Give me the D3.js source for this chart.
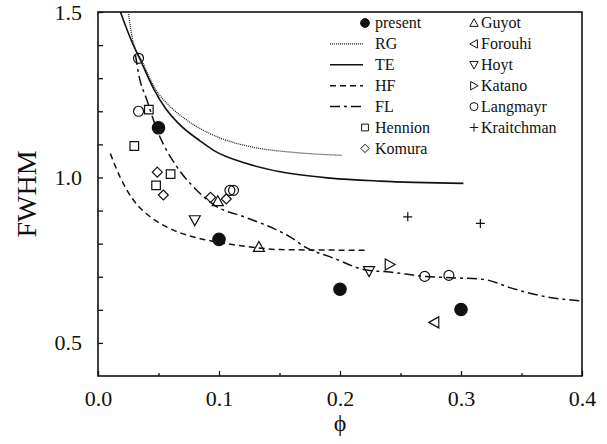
<html>
<head>
  <meta charset="UTF-8">
  <title>FWHM vs phi</title>
  <script src='https://d3js.org/d3.v7.min.js'></script>
</head>
<style>
body { margin: 0; background: #fff; }
text { font-family: "Liberation Serif", "Times New Roman", serif; fill: #111; }
</style>
<body>
  <script>

// ---- data ----
var present    = [[0.05, 1.15], [0.1, 0.813], [0.2, 0.662], [0.3, 0.601]];
var hennion    = [[0.030, 1.095], [0.042, 1.205], [0.060, 1.010], [0.048, 0.976]];
var komura     = [[0.049, 1.016], [0.054, 0.947], [0.093, 0.940], [0.106, 0.935]];
var guyot      = [[0.099, 0.928], [0.133, 0.790]];
var forouhi    = [[0.278, 0.562]];
var hoyt       = [[0.080, 0.871], [0.224, 0.717]];
var katano     = [[0.241, 0.737]];
var langmayr   = [[0.0335, 1.360], [0.0335, 1.200], [0.109, 0.961], [0.112, 0.961], [0.270, 0.701], [0.290, 0.704]];
var kraitchman = [[0.256, 0.881], [0.316, 0.861]];

var rgCurve = [[0.025, 1.5], [0.029, 1.41], [0.036, 1.355], [0.047, 1.27], [0.060, 1.213], [0.0735, 1.173],
               [0.099, 1.122], [0.126, 1.093], [0.164, 1.075], [0.2015, 1.067]];
var teCurve = [[0.0185, 1.5], [0.028, 1.41], [0.035, 1.355], [0.046, 1.268], [0.0556, 1.210], [0.068, 1.158],
               [0.0845, 1.110], [0.0955, 1.082], [0.123, 1.042], [0.1506, 1.017], [0.192, 0.998],
               [0.233, 0.989], [0.302, 0.982]];
var hfCurve = [[0.0102, 1.072], [0.0184, 1.0], [0.0294, 0.931], [0.0432, 0.881], [0.057, 0.850],
               [0.079, 0.820], [0.098, 0.805], [0.126, 0.790], [0.1506, 0.782], [0.2216, 0.780]];
var flCurve = [[0.031, 1.37], [0.0335, 1.314], [0.0405, 1.233], [0.050, 1.133], [0.0652, 1.032], [0.079, 0.971],
               [0.0955, 0.918], [0.123, 0.878], [0.145, 0.846], [0.158, 0.822], [0.1726, 0.787], [0.192, 0.760],
               [0.222, 0.720], [0.2414, 0.714], [0.270, 0.701], [0.291, 0.697], [0.3185, 0.692],
               [0.343, 0.664], [0.371, 0.639], [0.40, 0.627]];

var xTicks = [0.0, 0.1, 0.2, 0.3, 0.4];
var xMinor = [0.05, 0.15, 0.25, 0.35];
var yTicks = [0.5, 1.0, 1.5];
var yMinor = [0.6, 0.7, 0.8, 0.9, 1.1, 1.2, 1.3, 1.4];

var width = 607,
    height = 444;
var margin = {top: 12, right: 25, bottom: 68, left: 98};
var serif = '"Liberation Serif", "Times New Roman", serif';

var svg = d3.select('body')
  .append('svg')
  .attr('width', width)
  .attr('height', height);

var x = d3.scaleLinear().domain([0, 0.4]).range([margin.left, width - margin.right]);
var y = d3.scaleLinear().domain([0.4, 1.5]).range([height - margin.bottom, margin.top]);

svg.append('clipPath').attr('id', 'clip')
  .append('rect')
  .attr('x', x(0)).attr('y', y(1.5))
  .attr('width', x(0.4) - x(0)).attr('height', y(0.4) - y(1.5));

// axes: ticks inside, labels only on majors
svg.append('g')
  .attr('transform', 'translate(0,' + y(0.4) + ')')
  .call(d3.axisBottom(x).tickValues(xTicks).tickSize(-5).tickPadding(14).tickFormat(d3.format('.1f')));
svg.append('g')
  .attr('transform', 'translate(0,' + y(0.4) + ')')
  .call(d3.axisBottom(x).tickValues(xMinor).tickSize(-3).tickFormat(''));
svg.append('g')
  .attr('transform', 'translate(' + x(0) + ',0)')
  .call(d3.axisLeft(y).tickValues(yTicks).tickSize(-5).tickPadding(16).tickFormat(d3.format('.1f')));
svg.append('g')
  .attr('transform', 'translate(' + x(0) + ',0)')
  .call(d3.axisLeft(y).tickValues(yMinor).tickSize(-5).tickFormat(''));

svg.selectAll('.domain').remove();
svg.selectAll('.tick line').attr('stroke', '#111').attr('stroke-width', 1.3);
svg.selectAll('.tick text').attr('font-size', 22).attr('fill', '#111')
  .style('font-family', serif);

// frame
svg.append('rect')
  .attr('x', x(0)).attr('y', y(1.5))
  .attr('width', x(0.4) - x(0)).attr('height', y(0.4) - y(1.5))
  .attr('fill', 'none').attr('stroke', '#111').attr('stroke-width', 1.6);

// axis titles
svg.append('text')
  .attr('transform', 'translate(36,' + y(0.95) + ') rotate(-90)')
  .attr('text-anchor', 'middle')
  .attr('font-size', 28)
  .text('FWHM');
svg.append('text')
  .attr('x', x(0.2)).attr('y', 431)
  .attr('text-anchor', 'middle')
  .attr('font-size', 24)
  .text('\u03D5');

// curves
var styles = {
  RG: {dash: '1,1', w: 1.3, c: '#222'},
  TE: {dash: null, w: 1.6, c: '#111'},
  HF: {dash: '6,4', w: 1.5, c: '#111'},
  FL: {dash: '10,4,3,4', w: 1.5, c: '#111'}
};
var line = d3.line()
  .x(function(d) { return x(d[0]); })
  .y(function(d) { return y(d[1]); })
  .curve(d3.curveMonotoneX);

var curves = svg.append('g').attr('clip-path', 'url(#clip)');
[['RG', rgCurve], ['TE', teCurve], ['HF', hfCurve], ['FL', flCurve]].forEach(function(c) {
  var s = styles[c[0]];
  curves.append('path')
    .attr('d', line(c[1]))
    .attr('fill', 'none')
    .attr('stroke', s.c)
    .attr('stroke-width', s.w)
    .attr('stroke-dasharray', s.dash);
});

// marker shapes (s = half size)
function marker(type, s) {
  switch (type) {
    case 'square':  return 'M' + (-s) + ',' + (-s) + 'h' + 2*s + 'v' + 2*s + 'h' + (-2*s) + 'Z';
    case 'diamond': return 'M0,' + (-s) + 'L' + s + ',0L0,' + s + 'L' + (-s) + ',0Z';
    case 'up':      return 'M0,' + (-s) + 'L' + s + ',' + (s*0.8) + 'L' + (-s) + ',' + (s*0.8) + 'Z';
    case 'down':    return 'M0,' + s + 'L' + s + ',' + (-s*0.8) + 'L' + (-s) + ',' + (-s*0.8) + 'Z';
    case 'left':    return 'M' + (-s) + ',0L' + (s*0.8) + ',' + (-s) + 'L' + (s*0.8) + ',' + s + 'Z';
    case 'right':   return 'M' + s + ',0L' + (-s*0.8) + ',' + (-s) + 'L' + (-s*0.8) + ',' + s + 'Z';
    case 'plus':    return 'M' + (-s) + ',0H' + s + 'M0,' + (-s) + 'V' + s;
    default:        return d3.symbol(d3.symbolCircle, Math.PI * s * s)();
  }
}

var sets = [
  {name: 'present',    data: present,    type: 'circle',  fill: true,  size: 6.2, ls: 4.4},
  {name: 'Hennion',    data: hennion,    type: 'square',  fill: false, size: 4.3, ls: 3.4},
  {name: 'Komura',     data: komura,     type: 'diamond', fill: false, size: 5,   ls: 4.2},
  {name: 'Guyot',      data: guyot,      type: 'up',      fill: false, size: 5.5, ls: 4.2},
  {name: 'Forouhi',    data: forouhi,    type: 'left',    fill: false, size: 5.5, ls: 4.2},
  {name: 'Hoyt',       data: hoyt,       type: 'down',    fill: false, size: 5.5, ls: 4.2},
  {name: 'Katano',     data: katano,     type: 'right',   fill: false, size: 5.5, ls: 4.2},
  {name: 'Langmayr',   data: langmayr,   type: 'circle',  fill: false, size: 5,   ls: 4},
  {name: 'Kraitchman', data: kraitchman, type: 'plus',    fill: false, size: 4.5, ls: 4.2}
];

sets.forEach(function(set) {
  svg.append('g').selectAll('path')
    .data(set.data)
    .enter()
    .append('path')
    .attr('transform', function(d) { return 'translate(' + x(d[0]) + ',' + y(d[1]) + ')'; })
    .attr('d', marker(set.type, set.size))
    .attr('fill', set.fill ? '#111' : 'none')
    .attr('stroke', '#111')
    .attr('stroke-width', 1.2);
});

// legend
var rowY = function(i) { return 23 + i * 20.9; };
var leg1 = [
  {name: 'present', mark: sets[0]},
  {name: 'RG', line: 'RG'},
  {name: 'TE', line: 'TE'},
  {name: 'HF', line: 'HF'},
  {name: 'FL', line: 'FL'},
  {name: 'Hennion', mark: sets[1]},
  {name: 'Komura', mark: sets[2]}
];
var leg2 = ['Guyot', 'Forouhi', 'Hoyt', 'Katano', 'Langmayr', 'Kraitchman'].map(function(n) {
  return {name: n, mark: sets.filter(function(s) { return s.name === n; })[0]};
});

var legend = svg.append('g');
leg1.forEach(function(item, i) {
  var yy = rowY(i);
  if (item.line) {
    var s = styles[item.line];
    legend.append('line')
      .attr('x1', 330).attr('x2', 363).attr('y1', yy).attr('y2', yy)
      .attr('stroke', s.c).attr('stroke-width', s.w).attr('stroke-dasharray', s.dash);
  } else {
    legend.append('path')
      .attr('transform', 'translate(365,' + yy + ')')
      .attr('d', marker(item.mark.type, item.mark.ls))
      .attr('fill', item.mark.fill ? '#111' : 'none')
      .attr('stroke', '#111').attr('stroke-width', 1);
  }
  legend.append('text')
    .attr('x', 375).attr('y', yy).attr('dy', '0.33em')
    .attr('font-size', 16)
    .text(item.name);
});
leg2.forEach(function(item, i) {
  var yy = rowY(i);
  legend.append('path')
    .attr('transform', 'translate(474,' + yy + ')')
    .attr('d', marker(item.mark.type, item.mark.ls))
    .attr('fill', 'none')
    .attr('stroke', '#111').attr('stroke-width', 1);
  legend.append('text')
    .attr('x', 481).attr('y', yy).attr('dy', '0.33em')
    .attr('font-size', 16)
    .text(item.name);
});

  </script>
</body>
</html>
